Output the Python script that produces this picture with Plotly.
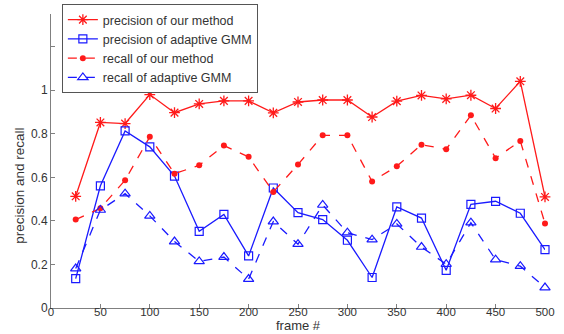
import plotly.graph_objects as go

frames = [25, 50, 75, 100, 125, 150, 175, 200, 225, 250, 275, 300, 325, 350, 375, 400, 425, 450, 475, 500]

precision_ours = [0.513, 0.852, 0.847, 0.980, 0.897, 0.937, 0.951, 0.951, 0.896, 0.946,
                  0.955, 0.955, 0.877, 0.950, 0.976, 0.960, 0.977, 0.916, 1.041, 0.510]
precision_gmm = [0.135, 0.561, 0.813, 0.740, 0.606, 0.352, 0.430, 0.239, 0.551, 0.438,
                 0.406, 0.311, 0.140, 0.464, 0.413, 0.173, 0.476, 0.490, 0.435, 0.268]
recall_ours = [0.406, 0.458, 0.587, 0.786, 0.617, 0.655, 0.746, 0.694, 0.533, 0.659,
               0.793, 0.793, 0.581, 0.651, 0.750, 0.729, 0.885, 0.688, 0.767, 0.388]
recall_gmm = [0.181, 0.450, 0.525, 0.423, 0.305, 0.214, 0.234, 0.133, 0.397, 0.293,
              0.473, 0.346, 0.314, 0.386, 0.280, 0.201, 0.392, 0.222, 0.192, 0.094]

y_tickvals = [0, 0.2, 0.4, 0.6, 0.8, 1, 1.2]
y_ticktext = ["0", "0.2", "0.4", "0.6", "0.8", "1", ""]
x_tickvals = [0, 50, 100, 150, 200, 250, 300, 350, 400, 450, 500]

RED = "#ff1a1a"
BLUE = "#1a1aff"
FONT = "Liberation Sans, Arial"

fig = go.Figure()
fig.add_trace(go.Scatter(x=frames, y=precision_ours, mode="lines+markers",
                         name="precision of our method", cliponaxis=False,
                         line=dict(color=RED, width=1.3),
                         marker=dict(symbol="asterisk-open", size=9, color=RED,
                                     line=dict(color=RED, width=1.3))))
fig.add_trace(go.Scatter(x=frames, y=precision_gmm, mode="lines+markers",
                         name="precision of adaptive GMM", cliponaxis=False,
                         line=dict(color=BLUE, width=1.3),
                         marker=dict(symbol="square-open", size=8, color=BLUE,
                                     line=dict(color=BLUE, width=1.2))))
fig.add_trace(go.Scatter(x=frames, y=recall_ours, mode="lines+markers",
                         name="recall of our method", cliponaxis=False,
                         line=dict(color=RED, width=1.3, dash="dash"),
                         marker=dict(symbol="circle", size=6, color=RED)))
fig.add_trace(go.Scatter(x=frames, y=recall_gmm, mode="lines+markers",
                         name="recall of adaptive GMM", cliponaxis=False,
                         line=dict(color=BLUE, width=1.3, dash="dash"),
                         marker=dict(symbol="triangle-up-open", size=9, color=BLUE,
                                     line=dict(color=BLUE, width=1.2))))

axis_common = dict(showgrid=False, zeroline=False, showline=True, linecolor="#808080",
                   linewidth=1, ticks="inside", ticklen=4, tickcolor="#808080",
                   automargin=False)

fig.update_layout(
    width=564, height=334, autosize=False,
    margin=dict(l=51, r=19, t=14, b=26, autoexpand=False),
    plot_bgcolor="white", paper_bgcolor="white",
    font=dict(family=FONT, color="#333333"),
    xaxis=dict(range=[0, 500], tickvals=x_tickvals, ticklabelstandoff=-7,
               tickfont=dict(family=FONT, size=11.5, color="#333333"), **axis_common),
    yaxis=dict(range=[0, 1.35], tickvals=y_tickvals, ticktext=y_ticktext,
               tickfont=dict(family=FONT, size=12, color="#333333"), **axis_common),
    legend=dict(x=0.022, y=1.034, xanchor="left", yanchor="top",
                bgcolor="white", bordercolor="#555555", borderwidth=1,
                font=dict(family=FONT, size=12.5, color="#333333"),
                itemwidth=30, tracegroupgap=0),
    showlegend=True,
    annotations=[
        dict(text="precision and recall", textangle=-90, showarrow=False,
             xref="paper", yref="paper", x=-0.063, y=0.415,
             xanchor="center", yanchor="middle",
             font=dict(family=FONT, size=13.5, color="#333333")),
        dict(text="frame #", showarrow=False,
             xref="paper", yref="paper", x=0.5, y=-0.092,
             xanchor="center", yanchor="bottom",
             font=dict(family=FONT, size=13, color="#333333")),
    ],
)

fig.write_html("out.html", config={"displayModeBar": False},
               post_script="document.body.style.margin='0';")
